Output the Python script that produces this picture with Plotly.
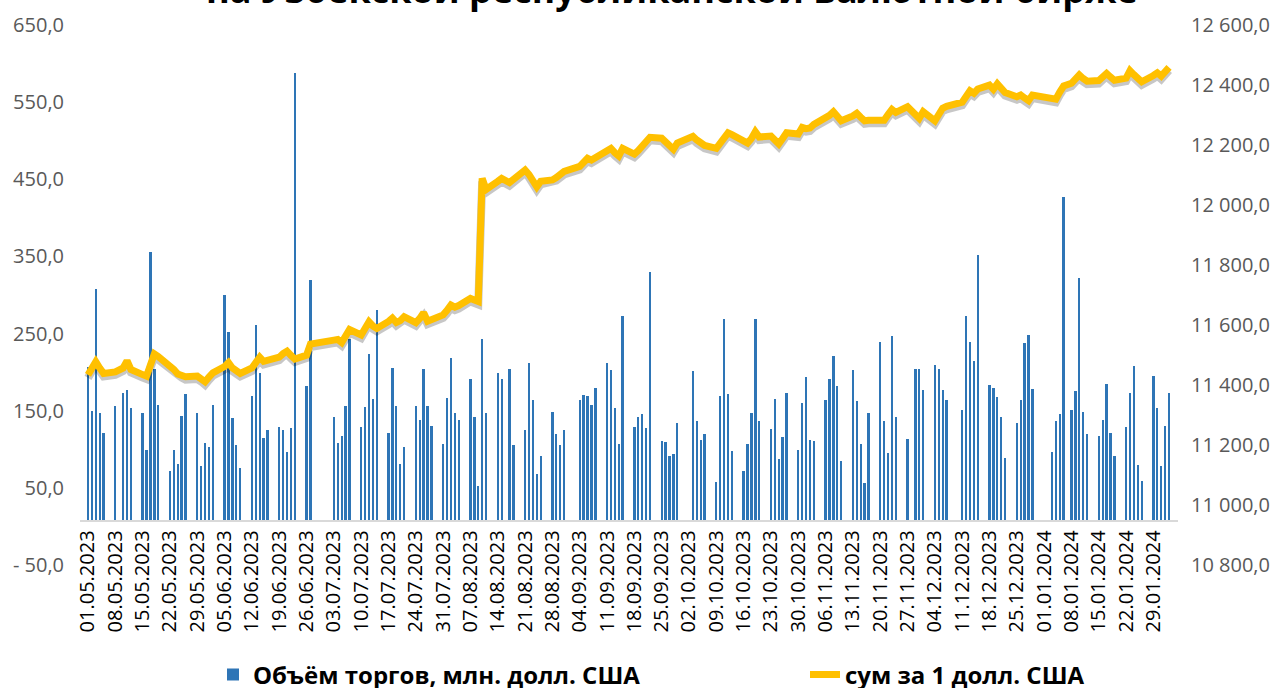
import plotly.graph_objects as go

dates = [
    "2023-05-01","2023-05-02","2023-05-03","2023-05-04","2023-05-05",
    "2023-05-08","2023-05-10","2023-05-11","2023-05-12",
    "2023-05-15","2023-05-16","2023-05-17","2023-05-18","2023-05-19",
    "2023-05-22","2023-05-23","2023-05-24","2023-05-25","2023-05-26",
    "2023-05-29","2023-05-30","2023-05-31","2023-06-01","2023-06-02",
    "2023-06-05","2023-06-06","2023-06-07","2023-06-08","2023-06-09",
    "2023-06-12","2023-06-13","2023-06-14","2023-06-15","2023-06-16",
    "2023-06-19","2023-06-20","2023-06-21","2023-06-22","2023-06-23",
    "2023-06-26","2023-06-27",
    "2023-07-03","2023-07-04","2023-07-05","2023-07-06","2023-07-07",
    "2023-07-10","2023-07-11","2023-07-12","2023-07-13","2023-07-14",
    "2023-07-17","2023-07-18","2023-07-19","2023-07-20","2023-07-21",
    "2023-07-24","2023-07-25","2023-07-26","2023-07-27","2023-07-28",
    "2023-07-31","2023-08-01","2023-08-02","2023-08-03","2023-08-04",
    "2023-08-07","2023-08-08","2023-08-09","2023-08-10","2023-08-11",
    "2023-08-14","2023-08-15","2023-08-17","2023-08-18",
    "2023-08-21","2023-08-22","2023-08-23","2023-08-24","2023-08-25",
    "2023-08-28","2023-08-29","2023-08-30","2023-08-31",
    "2023-09-04","2023-09-05","2023-09-06","2023-09-07","2023-09-08",
    "2023-09-11","2023-09-12","2023-09-13","2023-09-14","2023-09-15",
    "2023-09-18","2023-09-19","2023-09-20","2023-09-21","2023-09-22",
    "2023-09-25","2023-09-26","2023-09-27","2023-09-28","2023-09-29",
    "2023-10-03","2023-10-04","2023-10-05","2023-10-06",
    "2023-10-09","2023-10-10","2023-10-11","2023-10-12","2023-10-13",
    "2023-10-16","2023-10-17","2023-10-18","2023-10-19","2023-10-20",
    "2023-10-23","2023-10-24","2023-10-25","2023-10-26","2023-10-27",
    "2023-10-30","2023-10-31","2023-11-01","2023-11-02","2023-11-03",
    "2023-11-06","2023-11-07","2023-11-08","2023-11-09","2023-11-10",
    "2023-11-13","2023-11-14","2023-11-15","2023-11-16","2023-11-17",
    "2023-11-20","2023-11-21","2023-11-22","2023-11-23","2023-11-24",
    "2023-11-27","2023-11-29","2023-11-30","2023-12-01",
    "2023-12-04","2023-12-05","2023-12-06","2023-12-07",
    "2023-12-11","2023-12-12","2023-12-13","2023-12-14","2023-12-15",
    "2023-12-18","2023-12-19","2023-12-20","2023-12-21","2023-12-22",
    "2023-12-25","2023-12-26","2023-12-27","2023-12-28","2023-12-29",
    "2024-01-03","2024-01-04","2024-01-05","2024-01-06",
    "2024-01-08","2024-01-09","2024-01-10","2024-01-11","2024-01-12",
    "2024-01-15","2024-01-16","2024-01-17","2024-01-18","2024-01-19",
    "2024-01-22","2024-01-23","2024-01-24","2024-01-25","2024-01-26",
    "2024-01-29","2024-01-30","2024-01-31","2024-02-01","2024-02-02",
]

volume = [
    200,143,301,140,114,
    150,166,171,147,
    140,92,349,197,151,
    66,92,74,137,165,
    140,72,102,96,151,
    294,245,134,99,69,
    162,254,192,108,118,
    122,119,90,121,581,
    175,313,
    136,102,111,150,237,
    122,148,217,159,274,
    115,199,150,74,97,
    150,131,197,150,124,
    100,160,212,140,132,
    185,136,46,236,140,
    192,185,198,99,
    118,206,158,61,85,
    142,113,99,119,
    157,164,163,151,173,
    205,196,147,100,266,
    123,136,139,121,323,
    104,103,85,88,127,
    195,130,105,113,
    51,163,262,165,91,
    66,100,141,262,130,
    120,159,81,109,167,
    92,153,187,106,104,
    157,185,214,175,78,
    196,156,100,50,141,
    233,130,89,241,136,
    107,198,198,170,
    203,198,171,157,
    144,266,233,208,345,
    177,173,161,135,82,
    128,158,231,242,172,
    90,130,139,420,
    144,169,315,142,113,
    111,132,178,114,85,
    122,166,202,73,52,
    189,147,72,124,167,
]

rate = [
    11417,11438,11461,11440,11422,
    11427,11440,11464,11435,
    11418,11413,11450,11487,11478,
    11448,11435,11420,11418,11411,
    11413,11405,11394,11410,11424,
    11445,11458,11440,11428,11422,
    11440,11458,11476,11462,11465,
    11476,11488,11496,11482,11470,
    11483,11520,
    11533,11535,11525,11550,11568,
    11550,11570,11594,11580,11572,
    11595,11606,11592,11598,11611,
    11591,11605,11624,11596,11600,
    11617,11632,11650,11643,11648,
    11672,11665,11662,12072,12035,
    12062,12072,12058,12070,
    12100,12085,12065,12044,12062,
    12067,12075,12085,12095,
    12112,12125,12139,12133,12140,
    12165,12172,12158,12147,12172,
    12153,12165,12180,12195,12209,
    12206,12195,12180,12169,12190,
    12212,12200,12190,12182,
    12172,12190,12210,12224,12218,
    12198,12190,12205,12228,12210,
    12213,12200,12187,12205,12224,
    12220,12242,12238,12240,12252,
    12270,12282,12294,12276,12264,
    12280,12289,12276,12264,12266,
    12268,12266,12285,12302,12292,
    12311,12285,12272,12294,
    12264,12285,12306,12312,
    12326,12345,12364,12356,12370,
    12383,12369,12387,12370,12358,
    12344,12350,12340,12331,12350,
    12340,12336,12360,12380,
    12389,12402,12417,12405,12396,
    12398,12410,12422,12410,12399,
    12406,12431,12418,12405,12394,
    12415,12424,12413,12425,12442,
]

left_ticks = [-50, 50, 150, 250, 350, 450, 550, 650]
left_ticktext = ["- 50,0", "50,0", "150,0", "250,0", "350,0", "450,0", "550,0", "650,0"]
right_ticks = [10800, 11000, 11200, 11400, 11600, 11800, 12000, 12200, 12400, 12600]
right_ticktext = ["10 800,0", "11 000,0", "11 200,0", "11 400,0", "11 600,0",
                  "11 800,0", "12 000,0", "12 200,0", "12 400,0", "12 600,0"]

series_bar = "Объём торгов, млн. долл. США"
series_line = "сум за 1 долл. США"
title_text = "на Узбекской республиканской валютной бирже"

BLUE = "#2E75B6"
GOLD = "#FFC000"
DAY = 86400000

# plot area in pixels
L, R, T, B = 80, 1178, 20, 560
PH = B - T

fig = go.Figure()
fig.add_trace(go.Bar(x=dates, y=volume, name=series_bar, marker_color=BLUE,
                     marker_line_width=0, width=0.6 * DAY, yaxis="y", legend="legend"))
# soft shadow under the rate line (same data, hidden axis offset by a few px)
fig.add_trace(go.Scatter(x=dates, y=rate, mode="lines", yaxis="y2", showlegend=False,
                         hoverinfo="skip", line=dict(color="rgba(0,0,0,0.22)", width=8)))
fig.add_trace(go.Scatter(x=dates, y=rate, mode="lines", name=series_line, yaxis="y3",
                         line=dict(color=GOLD, width=7), legend="legend2"))

tickfont_y = dict(family="Open Sans", size=20, color="#595959")
legend_font = dict(family="Open Sans", size=24, color="#000000", weight="bold")
leg_y = (B - 675) / PH

fig.update_layout(
    template="none",
    width=1279, height=688,
    margin=dict(l=L, r=1279 - R, t=T, b=688 - B, pad=0, autoexpand=False),
    paper_bgcolor="white", plot_bgcolor="white",
    bargap=0,
    showlegend=True,
    legend=dict(orientation="h", x=(213 - L) / (R - L), xanchor="left", y=leg_y, yanchor="middle",
                font=legend_font, bgcolor="rgba(0,0,0,0)", borderwidth=0),
    legend2=dict(orientation="h", x=(805 - L) / (R - L), xanchor="left", y=leg_y, yanchor="middle",
                 font=legend_font, bgcolor="rgba(0,0,0,0)", borderwidth=0),
    xaxis=dict(type="date", range=["2023-04-28 22:48", "2024-02-04 07:12"],
               anchor="free", position=50 / 700, automargin=False,
               tick0="2023-05-01", dtick=7 * DAY, tickformat="%d.%m.%Y", tickangle=-90,
               tickfont=dict(family="Open Sans", size=20, color="#000000"),
               showgrid=False, zeroline=False, showline=True, linecolor="#D9D9D9",
               linewidth=2, ticks=""),
    yaxis=dict(range=[-50, 650], tickvals=left_ticks, ticktext=left_ticktext, automargin=False,
               tickfont=tickfont_y, showgrid=False, zeroline=False, showline=False, ticks="",
               ticklabelshift=5, ticklabelstandoff=15),
    yaxis2=dict(range=[10800 + 10, 12600 + 10], overlaying="y", visible=False),
    yaxis3=dict(range=[10800, 12600], overlaying="y", side="right", automargin=False,
                tickvals=right_ticks, ticktext=right_ticktext, tickfont=tickfont_y,
                showgrid=False, zeroline=False, showline=False, ticks="",
                ticklabelshift=5, ticklabelstandoff=12),
    annotations=[dict(text=title_text, xref="paper", yref="paper",
                      x=(671.5 - L) / (R - L), y=(B + 11) / PH,
                      xanchor="center", yanchor="middle", showarrow=False,
                      font=dict(family="Open Sans", size=36, color="#000000", weight="bold"))],
)

fig.write_html("out.html", config={"displayModeBar": False},
               post_script="document.body.style.margin='0';")
